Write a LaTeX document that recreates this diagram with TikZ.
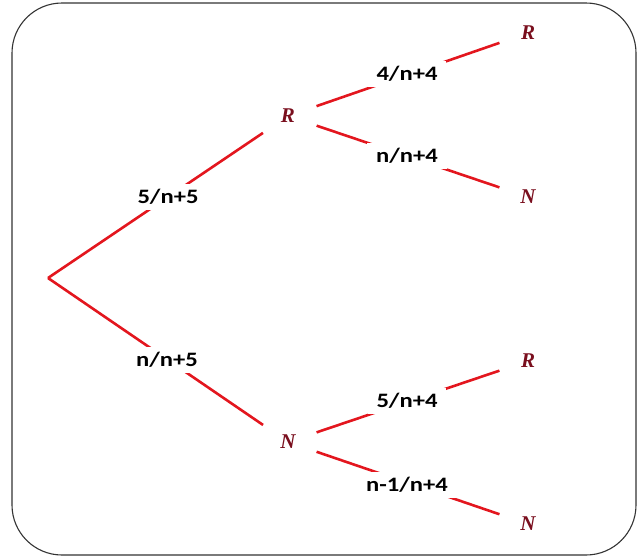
\documentclass[tikz,border=0pt]{standalone}
\usepackage{fontspec}
\setmainfont{Liberation Serif}
\newfontfamily\lblfont{Carlito}
\definecolor{branchred}{HTML}{E3161E}
\definecolor{letterred}{HTML}{7A0F1E}
\definecolor{framegray}{HTML}{333333}
\begin{document}
\begin{tikzpicture}[x=1pt,y=-1pt,
  branch/.style={draw=branchred,line width=2.6pt},
  outcome/.style={circle,inner sep=0pt,minimum size=60pt,text=letterred,
    font=\fontsize{21}{21}\selectfont\bfseries\itshape},
  prob/.style={fill=white,inner xsep=9pt,inner ysep=5pt,text=black,
    font=\fontsize{20.5}{20.5}\selectfont\lblfont\bfseries}]
\useasboundingbox (0,0) rectangle (638,558);
\draw[framegray,line width=1.1pt,rounded corners=50pt] (12,3) rectangle (636,555);
\coordinate (root) at (48,278);
\node[outcome] (R1) at (288,116) {R};
\node[outcome] (N1) at (288,442) {N};
\node[outcome] (RR) at (528,33) {R};
\node[outcome] (RN) at (528,197) {N};
\node[outcome] (NR) at (528,361) {R};
\node[outcome] (NN) at (528,524) {N};
\draw[branch] (root) -- (R1);
\draw[branch] (root) -- (N1);
\draw[branch] (R1) -- (RR);
\draw[branch] (R1) -- (RN);
\draw[branch] (N1) -- (NR);
\draw[branch] (N1) -- (NN);
\node[prob] (p1) at (168,197) {\scalebox{1.2}[1]{5/n+5}};
\node[prob] (p2) at (167,360) {\scalebox{1.2}[1]{n/n+5}};
\node[prob] (p3) at (407,74) {\scalebox{1.2}[1]{4/n+4}};
\node[prob] (p4) at (407,156) {\scalebox{1.2}[1]{n/n+4}};
\node[prob] (p5) at (407,401) {\scalebox{1.2}[1]{5/n+4}};
\node[prob] (p6) at (407,485) {\scalebox{1.2}[1]{n-1/n+4}};
\end{tikzpicture}
\end{document}
